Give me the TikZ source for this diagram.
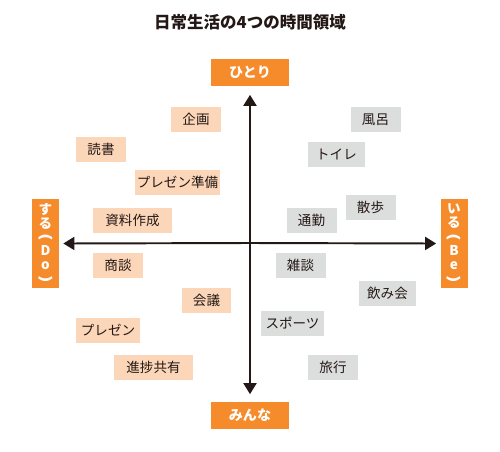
\documentclass[tikz,border=0pt]{standalone}
\usepackage{fontspec}
\usepackage{xcolor}
\setmainfont{Noto Sans CJK JP}
\usetikzlibrary{arrows.meta}

\definecolor{axisorange}{HTML}{F68B2B}
\definecolor{peach}{HTML}{FCD6B8}
\definecolor{lightgray}{HTML}{DCDDDD}
\definecolor{ink}{HTML}{231815}

\newcommand{\vopen}{\smash{\rotatebox[origin=c]{-90}{\scalebox{1.4}[1]{(}}}}
\newcommand{\vclose}{\smash{\rotatebox[origin=c]{-90}{\scalebox{1.4}[1]{)}}}}

\begin{document}
\begin{tikzpicture}[x=0.02cm, y=-0.02cm,
    ends/.style={fill=axisorange, text=white, font=\fontsize{8}{8}\selectfont\bfseries, inner sep=0pt},
    dobox/.style={fill=peach, text=ink, font=\fontsize{7.7}{7.7}\selectfont, minimum height=0.5cm, minimum width=#1, inner sep=0pt},
    bebox/.style={fill=lightgray, text=ink, font=\fontsize{7.7}{7.7}\selectfont, minimum height=0.5cm, minimum width=#1, inner sep=0pt},
    axis/.style={ink, line width=1.1pt, -{Triangle[length=0.22cm, width=0.26cm]}}]
    \useasboundingbox (0,0) rectangle (500,451);

    % Title
    \node[text=ink, font=\fontsize{9.4}{9.4}\selectfont\bfseries] (title) at (250,22) {日常生活の4つの時間領域};

    % Axis ends
    \node[ends, minimum width=1.56cm, minimum height=0.54cm] (hitori) at (250,72) {ひとり};
    \node[ends, minimum width=1.56cm, minimum height=0.54cm] (minna) at (250,415) {みんな};
    \node[ends, minimum width=0.54cm, minimum height=1.78cm, align=center,
          font=\fontsize{7.7}{7.9}\selectfont\bfseries] (suru) at (45.5,243.5) {す\\る\\\vopen\\D\\o\\\vclose};
    \node[ends, minimum width=0.54cm, minimum height=1.78cm, align=center,
          font=\fontsize{7.7}{7.9}\selectfont\bfseries] (iru) at (454,243.5) {い\\る\\\vopen\\B\\e\\\vclose};

    % Draw axes
    \coordinate (origin) at (250,243);
    \draw[axis] (origin) -- (hitori.south) [shorten >=0.18cm];
    \draw[axis] (origin) -- (minna.north) [shorten >=0.14cm];
    \draw[axis] (origin) -- (suru.east) [shorten >=0.08cm];
    \draw[axis] (origin) -- (iru.west) [shorten >=0.08cm];

    % Do side
    \node[dobox=1.0cm] (kikaku) at (196,119.5) {企画};
    \node[dobox=1.0cm] (dokusho) at (101,149.5) {読書};
    \node[dobox=1.7cm] (junbi) at (177.5,182) {プレゼン準備};
    \node[dobox=1.58cm] (shiryo) at (132.5,220.5) {資料作成};
    \node[dobox=1.0cm] (shodan) at (118,265.5) {商談};
    \node[dobox=1.0cm] (kaigi) at (206.5,300.5) {会議};
    \node[dobox=1.28cm] (purezen) at (108,330.5) {プレゼン};
    \node[dobox=1.58cm] (shinchoku) at (153.5,367.5) {進捗共有};

    % Be side
    \node[bebox=1.0cm] (furo) at (375.5,119.5) {風呂};
    \node[bebox=1.14cm] (toire) at (336.5,154.5) {トイレ};
    \node[bebox=1.0cm] (sanpo) at (370.5,207) {散歩};
    \node[bebox=1.0cm] (tsukin) at (311.5,220.5) {通勤};
    \node[bebox=1.0cm] (zatsudan) at (300.5,265.5) {雑談};
    \node[bebox=1.14cm] (nomikai) at (387.5,293) {飲み会};
    \node[bebox=1.26cm] (supotsu) at (292.5,323) {スポーツ};
    \node[bebox=1.0cm] (ryoko) at (333,367) {旅行};
\end{tikzpicture}
\end{document}
